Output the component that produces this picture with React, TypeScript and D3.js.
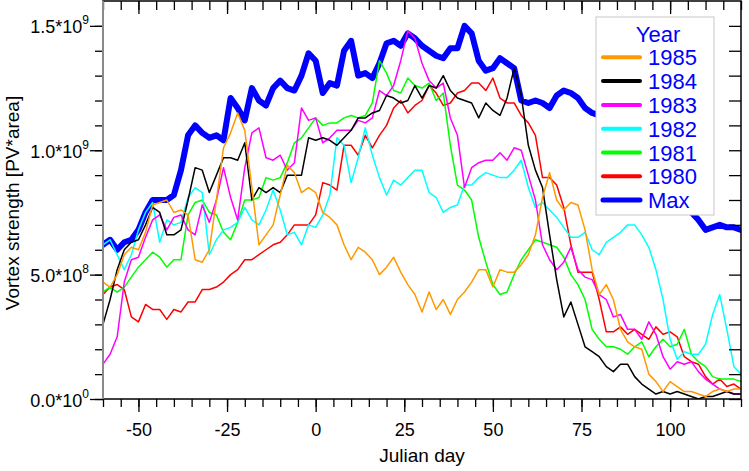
import React, { useEffect, useRef } from 'react';
import * as d3 from 'd3';

// Julian day grid (every second day)
const days = d3.range(-60, 121, 2);

// vortex strength in units of 1e9 [PV*area]
const maxVals = [
  0.62, 0.64, 0.60, 0.63, 0.64, 0.68, 0.75, 0.80, 0.80, 0.80,
  0.82, 0.92, 1.06, 1.10, 1.07, 1.05, 1.06, 1.04, 1.21, 1.17,
  1.12, 1.25, 1.20, 1.18, 1.25, 1.28, 1.25, 1.24, 1.30, 1.39,
  1.36, 1.23, 1.27, 1.26, 1.40, 1.44, 1.30, 1.31, 1.29, 1.35,
  1.43, 1.44, 1.42, 1.47, 1.45, 1.42, 1.40, 1.38, 1.37, 1.41,
  1.41, 1.50, 1.47, 1.36, 1.32, 1.33, 1.37, 1.35, 1.33, 1.20,
  1.19, 1.20, 1.19, 1.17, 1.22, 1.24, 1.23, 1.21, 1.17, 1.15,
  1.14, 1.12, 1.10, 1.08, 1.05, 1.02, 0.98, 0.95, 0.92, 0.88,
  0.85, 0.82, 0.78, 0.75, 0.72, 0.68, 0.69, 0.70, 0.69, 0.69,
  0.68,
];

const y1985 = [
  0.47, 0.45, 0.50, 0.58, 0.61, 0.60, 0.67, 0.78, 0.79, 0.80,
  0.75, 0.76, 0.74, 0.56, 0.55, 0.60, 0.80, 1.01, 1.07, 1.15,
  1.08, 0.85, 0.62, 0.66, 0.70, 0.82, 0.94, 0.91, 0.83, 0.85,
  0.83, 0.75, 0.73, 0.70, 0.62, 0.56, 0.61, 0.59, 0.56, 0.50,
  0.53, 0.57, 0.51, 0.46, 0.42, 0.35, 0.43, 0.36, 0.40, 0.34,
  0.40, 0.43, 0.47, 0.52, 0.52, 0.45, 0.52, 0.51, 0.51, 0.54,
  0.58, 0.66, 0.81, 0.91, 0.80, 0.76, 0.79, 0.78, 0.68, 0.52,
  0.42, 0.46, 0.40, 0.28, 0.23, 0.21, 0.20, 0.10, 0.07, 0.03,
  0.07, 0.05, 0.03, 0.03, 0.02, 0.01, 0.03, 0.04, 0.03, 0.04,
  0.04,
];

const y1984 = [
  0.30, 0.40, 0.52, 0.60, 0.63, 0.64, 0.70, 0.77, 0.75, 0.66,
  0.66, 0.68, 0.80, 0.93, 0.92, 0.83, 0.90, 0.97, 0.97, 0.96,
  1.03, 0.80, 0.85, 0.83, 0.85, 0.83, 0.90, 0.90, 0.90, 1.05,
  1.04, 1.05, 1.04, 1.02, 1.05, 1.08, 1.13, 1.13, 1.15, 1.16,
  1.22, 1.21, 1.19, 1.20, 1.26, 1.21, 1.26, 1.25, 1.30, 1.24,
  1.21, 1.20, 1.19, 1.13, 1.19, 1.16, 1.14, 1.21, 1.33, 1.22,
  1.02, 0.92, 0.85, 0.66, 0.48, 0.33, 0.39, 0.30, 0.21, 0.19,
  0.17, 0.13, 0.11, 0.14, 0.14, 0.09, 0.06, 0.04, 0.02, 0.03,
  0.02, 0.03, 0.02, 0.01, 0.00, 0.01, 0.01, 0.02, 0.03, 0.02,
  0.02,
];

const y1983 = [
  0.14, 0.18, 0.25, 0.47, 0.56, 0.57, 0.65, 0.72, 0.74, 0.68,
  0.73, 0.74, 0.68, 0.66, 0.78, 0.71, 0.80, 0.93, 0.81, 0.72,
  0.93, 1.07, 1.09, 0.97, 0.96, 0.98, 0.92, 0.95, 1.17, 1.12,
  1.13, 1.03, 1.05, 1.08, 1.08, 1.08, 1.12, 1.11, 1.13, 1.24,
  1.22, 1.26, 1.36, 1.48, 1.45, 1.35, 1.28, 1.25, 1.27, 1.13,
  1.06, 0.85, 0.93, 0.95, 0.96, 0.96, 0.99, 0.96, 1.01, 1.00,
  0.90, 0.80, 0.62, 0.56, 0.52, 0.55, 0.61, 0.52, 0.49, 0.48,
  0.42, 0.40, 0.33, 0.34, 0.28, 0.28, 0.24, 0.31, 0.26, 0.17,
  0.12, 0.15, 0.14, 0.15, 0.11, 0.08, 0.06, 0.04, 0.03, 0.02,
  0.02,
];

const y1982 = [
  0.62, 0.64, 0.58, 0.52, 0.58, 0.68, 0.75, 0.79, 0.63, 0.72,
  0.70, 0.71, 0.81, 0.85, 0.83, 0.58, 0.64, 0.68, 0.69, 0.71,
  0.77, 0.72, 0.70, 0.76, 0.84, 0.76, 0.66, 0.67, 0.62, 0.70,
  0.69, 0.74, 0.82, 1.05, 1.02, 0.87, 0.97, 1.09, 0.98, 0.89,
  0.82, 0.88, 0.86, 0.89, 0.92, 0.92, 0.83, 0.81, 0.75, 0.77,
  0.78, 0.86, 0.86, 0.89, 0.91, 0.90, 0.89, 0.89, 0.92, 0.96,
  0.85, 0.77, 0.79, 0.76, 0.73, 0.69, 0.65, 0.65, 0.67, 0.60,
  0.58, 0.63, 0.65, 0.67, 0.70, 0.70, 0.66, 0.61, 0.52, 0.40,
  0.24, 0.16, 0.19, 0.18, 0.18, 0.22, 0.34, 0.42, 0.28, 0.13,
  0.10,
];

const y1981 = [
  0.43, 0.45, 0.43, 0.45, 0.49, 0.53, 0.56, 0.59, 0.57, 0.53,
  0.56, 0.56, 0.74, 0.79, 0.80, 0.75, 0.74, 0.67, 0.64, 0.71,
  0.80, 0.80, 0.81, 0.89, 0.88, 0.89, 0.95, 1.03, 1.05, 1.09,
  1.13, 1.10, 1.11, 1.11, 1.13, 1.14, 1.13, 1.14, 1.19, 1.36,
  1.31, 1.24, 1.23, 1.29, 1.26, 1.25, 1.27, 1.20, 1.23, 1.02,
  0.86, 0.84, 0.80, 0.65, 0.55, 0.46, 0.42, 0.43, 0.50, 0.56,
  0.60, 0.64, 0.63, 0.62, 0.61, 0.57, 0.50, 0.46, 0.40, 0.28,
  0.24, 0.21, 0.21, 0.20, 0.18, 0.21, 0.23, 0.17, 0.21, 0.24,
  0.21, 0.22, 0.28, 0.18, 0.15, 0.13, 0.09, 0.08, 0.08, 0.08,
  0.07,
];

const y1980 = [
  0.42, 0.45, 0.46, 0.44, 0.33, 0.31, 0.38, 0.36, 0.36, 0.32,
  0.36, 0.35, 0.39, 0.39, 0.44, 0.44, 0.45, 0.47, 0.50, 0.52,
  0.56, 0.56, 0.58, 0.60, 0.62, 0.63, 0.66, 0.70, 0.70, 0.70,
  0.74, 0.87, 0.86, 0.84, 1.02, 1.02, 0.98, 1.06, 1.01, 1.06,
  1.10, 1.17, 1.20, 1.15, 1.18, 1.20, 1.26, 1.23, 1.18, 1.19,
  1.23, 1.24, 1.27, 1.27, 1.24, 1.29, 1.21, 1.19, 1.19, 1.14,
  1.11, 1.06, 0.89, 0.89, 0.86, 0.77, 0.62, 0.51, 0.51, 0.51,
  0.40, 0.27, 0.27, 0.29, 0.26, 0.28, 0.26, 0.24, 0.29, 0.26,
  0.27, 0.25, 0.17, 0.15, 0.14, 0.09, 0.06, 0.08, 0.05, 0.06,
  0.04,
];

const xMajorTicks = [-50, -25, 0, 25, 50, 75, 100];
const yMajorTicks = [0, 0.5e9, 1.0e9, 1.5e9];
const yTickMantissa = ['0.0', '5.0', '1.0', '1.5'];
const yTickExponent = ['0', '8', '9', '9'];

interface Series { name: string; color: string; width: number; values: number[]; }

// legend order
const legendSeries: Series[] = [
  { name: '1985', color: '#ff9900', width: 1.5, values: y1985 },
  { name: '1984', color: '#000000', width: 1.5, values: y1984 },
  { name: '1983', color: '#ff00ff', width: 1.5, values: y1983 },
  { name: '1982', color: '#00ffff', width: 1.5, values: y1982 },
  { name: '1981', color: '#00ff00', width: 1.5, values: y1981 },
  { name: '1980', color: '#ff0000', width: 1.5, values: y1980 },
  { name: 'Max', color: '#0000ff', width: 6, values: maxVals },
];

const FONT = '"Liberation Sans", Arial, Helvetica, sans-serif';

const App: React.FC = () => {
  const svgRef = useRef<SVGSVGElement>(null);

  useEffect(() => {
    if (!svgRef.current) return;
    const svg = d3.select(svgRef.current);
    svg.selectAll('*').remove();

    const W = 749, H = 471;
    const left = 103, right = 741, top = 1, bottom = 399;

    const x = d3.scaleLinear().domain([-60, 120]).range([left, right]);
    const y = d3.scaleLinear().domain([0, 1.6e9]).range([bottom, top]);

    svg.append('rect').attr('width', W).attr('height', H).attr('fill', '#fff');

    svg.append('defs').append('clipPath').attr('id', 'plot-clip')
      .append('rect')
      .attr('x', left).attr('y', top)
      .attr('width', right - left).attr('height', bottom - top);

    const line = d3.line<number>()
      .x((_, i) => x(days[i]))
      .y(v => y(v * 1e9))
      .curve(d3.curveLinear);

    // Max first, then the years from 1980 upwards
    const drawOrder = [...legendSeries].reverse();
    const plot = svg.append('g').attr('clip-path', 'url(#plot-clip)');
    drawOrder.forEach(s => {
      plot.append('path')
        .attr('d', line(s.values) as string)
        .attr('fill', 'none')
        .attr('stroke', s.color)
        .attr('stroke-width', s.width)
        .attr('stroke-linejoin', 'round')
        .attr('stroke-linecap', 'round');
    });

    // ticks
    const tickStyle = (g: d3.Selection<SVGGElement, unknown, null, undefined>) => {
      g.select('.domain').remove();
      g.selectAll('line').attr('stroke', '#000').attr('stroke-width', 1.3);
    };
    const minorX = d3.range(-60, 121, 5);
    const minorY = d3.range(0, 1.55e9, 1e8);

    // bottom
    svg.append('g').attr('transform', `translate(0,${bottom})`)
      .call(d3.axisBottom(x).tickValues(minorX).tickSize(8).tickFormat(() => ''))
      .call(tickStyle);
    const bx = svg.append('g').attr('transform', `translate(0,${bottom})`)
      .call(d3.axisBottom(x).tickValues(xMajorTicks).tickSize(13).tickPadding(11).tickFormat(d => `${d}`))
      .call(tickStyle);
    bx.selectAll('text').attr('font-family', FONT).attr('font-size', 18).attr('fill', '#000');

    // top (inward)
    svg.append('g').attr('transform', `translate(0,${top})`)
      .call(d3.axisBottom(x).tickValues(minorX).tickSize(9).tickFormat(() => ''))
      .call(tickStyle);
    svg.append('g').attr('transform', `translate(0,${top})`)
      .call(d3.axisBottom(x).tickValues(xMajorTicks).tickSize(13).tickFormat(() => ''))
      .call(tickStyle);

    // left
    svg.append('g').attr('transform', `translate(${left},0)`)
      .call(d3.axisLeft(y).tickValues(minorY).tickSize(8).tickFormat(() => ''))
      .call(tickStyle);
    svg.append('g').attr('transform', `translate(${left},0)`)
      .call(d3.axisLeft(y).tickValues(yMajorTicks).tickSize(13).tickFormat(() => ''))
      .call(tickStyle);

    // right (inward)
    svg.append('g').attr('transform', `translate(${right},0)`)
      .call(d3.axisLeft(y).tickValues(minorY).tickSize(12).tickFormat(() => ''))
      .call(tickStyle);

    // y tick labels with exponent
    yMajorTicks.forEach((v, i) => {
      const t = svg.append('text')
        .attr('x', 89)
        .attr('y', y(v) + 7.5)
        .attr('text-anchor', 'end')
        .attr('font-family', FONT)
        .attr('font-size', 18)
        .attr('fill', '#000');
      t.append('tspan').text(`${yTickMantissa[i]}*10`);
      t.append('tspan').attr('dy', -9).attr('font-size', 12).text(yTickExponent[i]);
    });

    // frame
    svg.append('rect')
      .attr('x', left).attr('y', top)
      .attr('width', right - left).attr('height', bottom - top)
      .attr('fill', 'none').attr('stroke', '#000').attr('stroke-width', 1.5);
    svg.append('line')
      .attr('x1', left).attr('x2', left).attr('y1', top).attr('y2', bottom)
      .attr('stroke', '#8a8a8a').attr('stroke-width', 2);

    // axis titles
    svg.append('text')
      .attr('x', (left + right) / 2).attr('y', 462)
      .attr('text-anchor', 'middle')
      .attr('font-family', FONT).attr('font-size', 19).attr('fill', '#000')
      .text('Julian day');
    svg.append('text')
      .attr('transform', `translate(19,${(top + bottom) / 2 + 3}) rotate(-90)`)
      .attr('text-anchor', 'middle')
      .attr('font-family', FONT).attr('font-size', 19).attr('fill', '#000')
      .text('Vortex strength [PV*area]');

    // legend
    const lg = svg.append('g');
    lg.append('rect')
      .attr('x', 596).attr('y', 17).attr('width', 118).attr('height', 198)
      .attr('fill', '#fff').attr('stroke', '#c8c8c8').attr('stroke-width', 1);
    lg.append('text')
      .attr('x', 658).attr('y', 41.5)
      .attr('text-anchor', 'middle')
      .attr('font-family', FONT).attr('font-size', 22).attr('fill', '#0000ff')
      .text('Year');
    legendSeries.forEach((s, i) => {
      const cy = 57.3 + i * 23.8;
      lg.append('line')
        .attr('x1', 603).attr('x2', 640).attr('y1', cy).attr('y2', cy)
        .attr('stroke', s.color).attr('stroke-width', s.name === 'Max' ? 5 : 4)
        .attr('stroke-linecap', 'round');
      lg.append('text')
        .attr('x', 648).attr('y', cy + 8)
        .attr('font-family', FONT).attr('font-size', 22).attr('fill', '#0000ff')
        .text(s.name);
    });
  }, []);

  return (
    <svg
      ref={svgRef}
      width={749}
      height={471}
      style={{ position: 'absolute', left: 0, top: 0, display: 'block' }}
    />
  );
};

export default App;
